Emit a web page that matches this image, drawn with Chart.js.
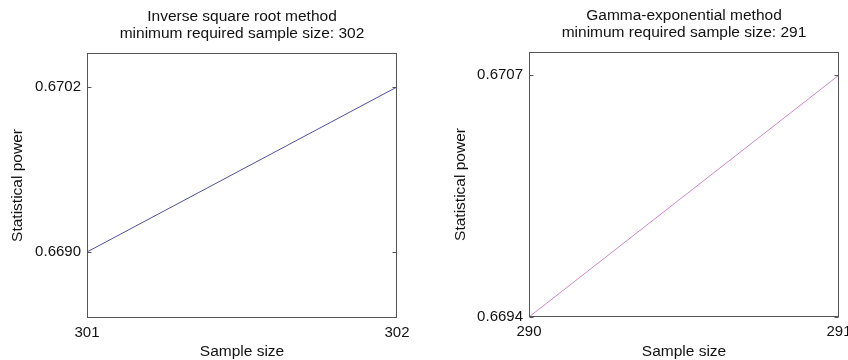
<!DOCTYPE html>
<html>
<head>
<meta charset="utf-8">
<script src="https://cdn.jsdelivr.net/npm/chart.js@4/dist/chart.umd.min.js"></script>
<style>
  html, body { margin: 0; padding: 0; background: #fff; overflow: hidden; }
  .wrap { position: absolute; top: 0; width: 424px; height: 360px; }
  #w1 { left: 0; }
  #w2 { left: 424px; }
</style>
</head>
<body>
<div class="wrap" id="w1"><canvas id="c1" width="424" height="360"></canvas></div>
<div class="wrap" id="w2"><canvas id="c2" width="424" height="360"></canvas></div>
<script>
// ---- data ----
const leftTitle = ['Inverse square root method', 'minimum required sample size: 302'];
const leftSampleSizes = [301, 302];
const leftPower = [0.6690, 0.6702];
const leftYTicks = [0.6690, 0.6702];
const leftXTicks = [301, 302];

const rightTitle = ['Gamma-exponential method', 'minimum required sample size: 291'];
const rightSampleSizes = [290, 291];
const rightPower = [0.6694, 0.6707];
const rightYTicks = [0.6694, 0.6707];
const rightXTicks = [290, 291];

const xAxisTitle = 'Sample size';
const yAxisTitle = 'Statistical power';

const FONT = "'Liberation Sans', Arial, sans-serif";

// frame + inward tick marks plugin
const framePlugin = {
  id: 'frame',
  afterDatasetsDraw(chart) {
    const {ctx, chartArea: a, scales} = chart;
    ctx.save();
    ctx.strokeStyle = '#555';
    ctx.lineWidth = 1;
    const l = Math.round(a.left) + 0.5, r = Math.round(a.right) - 0.5;
    const t = Math.round(a.top) + 0.5, b = Math.round(a.bottom) - 0.5;
    ctx.strokeRect(l, t, r - l, b - t);
    ctx.beginPath();
    scales.y.ticks.forEach(tk => {
      const y = Math.round(scales.y.getPixelForValue(tk.value)) + 0.5;
      ctx.moveTo(l, y); ctx.lineTo(l + 4, y);
      ctx.moveTo(r, y); ctx.lineTo(r - 4, y);
    });
    ctx.stroke();
    ctx.restore();
  }
};

function makeChart(id, cfg) {
  const data = cfg.xs.map((x, i) => ({x: x, y: cfg.ys[i]}));
  return new Chart(document.getElementById(id), {
    type: 'line',
    data: {
      datasets: [{
        data: data,
        borderColor: cfg.color,
        backgroundColor: cfg.color,
        borderWidth: 1,
        pointRadius: 1,
        pointBorderWidth: 0,
        pointBackgroundColor: '#444',
        fill: false,
        tension: 0
      }]
    },
    options: {
      responsive: false,
      animation: false,
      events: [],
      layout: { padding: { left: 0, top: 0, right: cfg.padRight, bottom: 0 } },
      plugins: {
        legend: { display: false },
        tooltip: { enabled: false },
        title: {
          display: true,
          text: cfg.title,
          fullSize: false,
          color: '#111',
          font: { family: FONT, size: 15.5, weight: 'normal', lineHeight: '17px' },
          padding: { top: cfg.titleTop, bottom: cfg.titleBottom }
        }
      },
      scales: {
        x: {
          type: 'linear',
          min: cfg.xs[0],
          max: cfg.xs[cfg.xs.length - 1],
          grid: { display: false, drawTicks: false },
          border: { display: false },
          afterBuildTicks: s => { s.ticks = cfg.xTicks.map(v => ({value: v})); },
          afterFit: s => { s.height = cfg.xHeight; s.paddingLeft = 0; s.paddingRight = 0; },
          ticks: {
            color: '#111',
            padding: 6,
            maxRotation: 0,
            font: { family: FONT, size: 15 },
            callback: v => String(v)
          },
          title: {
            display: true,
            text: xAxisTitle,
            color: '#111',
            font: { family: FONT, size: 15.5, lineHeight: '16px' },
            padding: { top: 0, bottom: 0 }
          }
        },
        y: {
          type: 'linear',
          min: cfg.yMin,
          max: cfg.yMax,
          grid: { display: false, drawTicks: false },
          border: { display: false },
          afterBuildTicks: s => { s.ticks = cfg.yTicks.map(v => ({value: v})); },
          afterFit: s => { s.width = cfg.yWidth; s.paddingTop = 0; s.paddingBottom = 0; },
          ticks: {
            color: '#111',
            padding: 6,
            font: { family: FONT, size: 15 },
            callback: v => v.toFixed(4)
          },
          title: {
            display: true,
            text: yAxisTitle,
            color: '#111',
            font: { family: FONT, size: 15.5, lineHeight: '16px' },
            padding: { top: cfg.yTitlePad, bottom: 0 }
          }
        }
      }
    },
    plugins: [framePlugin]
  });
}

makeChart('c1', {
  xs: leftSampleSizes, ys: leftPower, xTicks: leftXTicks, yTicks: leftYTicks,
  title: leftTitle, color: '#50509a',
  yMin: 0.66852, yMax: 0.670447,
  padRight: 27, yWidth: 87, xHeight: 42, titleTop: 8.5, titleBottom: 10.5, yTitlePad: 10
});

makeChart('c2', {
  xs: rightSampleSizes, ys: rightPower, xTicks: rightXTicks, yTicks: rightYTicks,
  title: rightTitle, color: '#cc88cc',
  yMin: 0.6694, yMax: 0.670824,
  padRight: 9, yWidth: 105, xHeight: 43, titleTop: 7.5, titleBottom: 10.5, yTitlePad: 29
});
</script>
</body>
</html>
